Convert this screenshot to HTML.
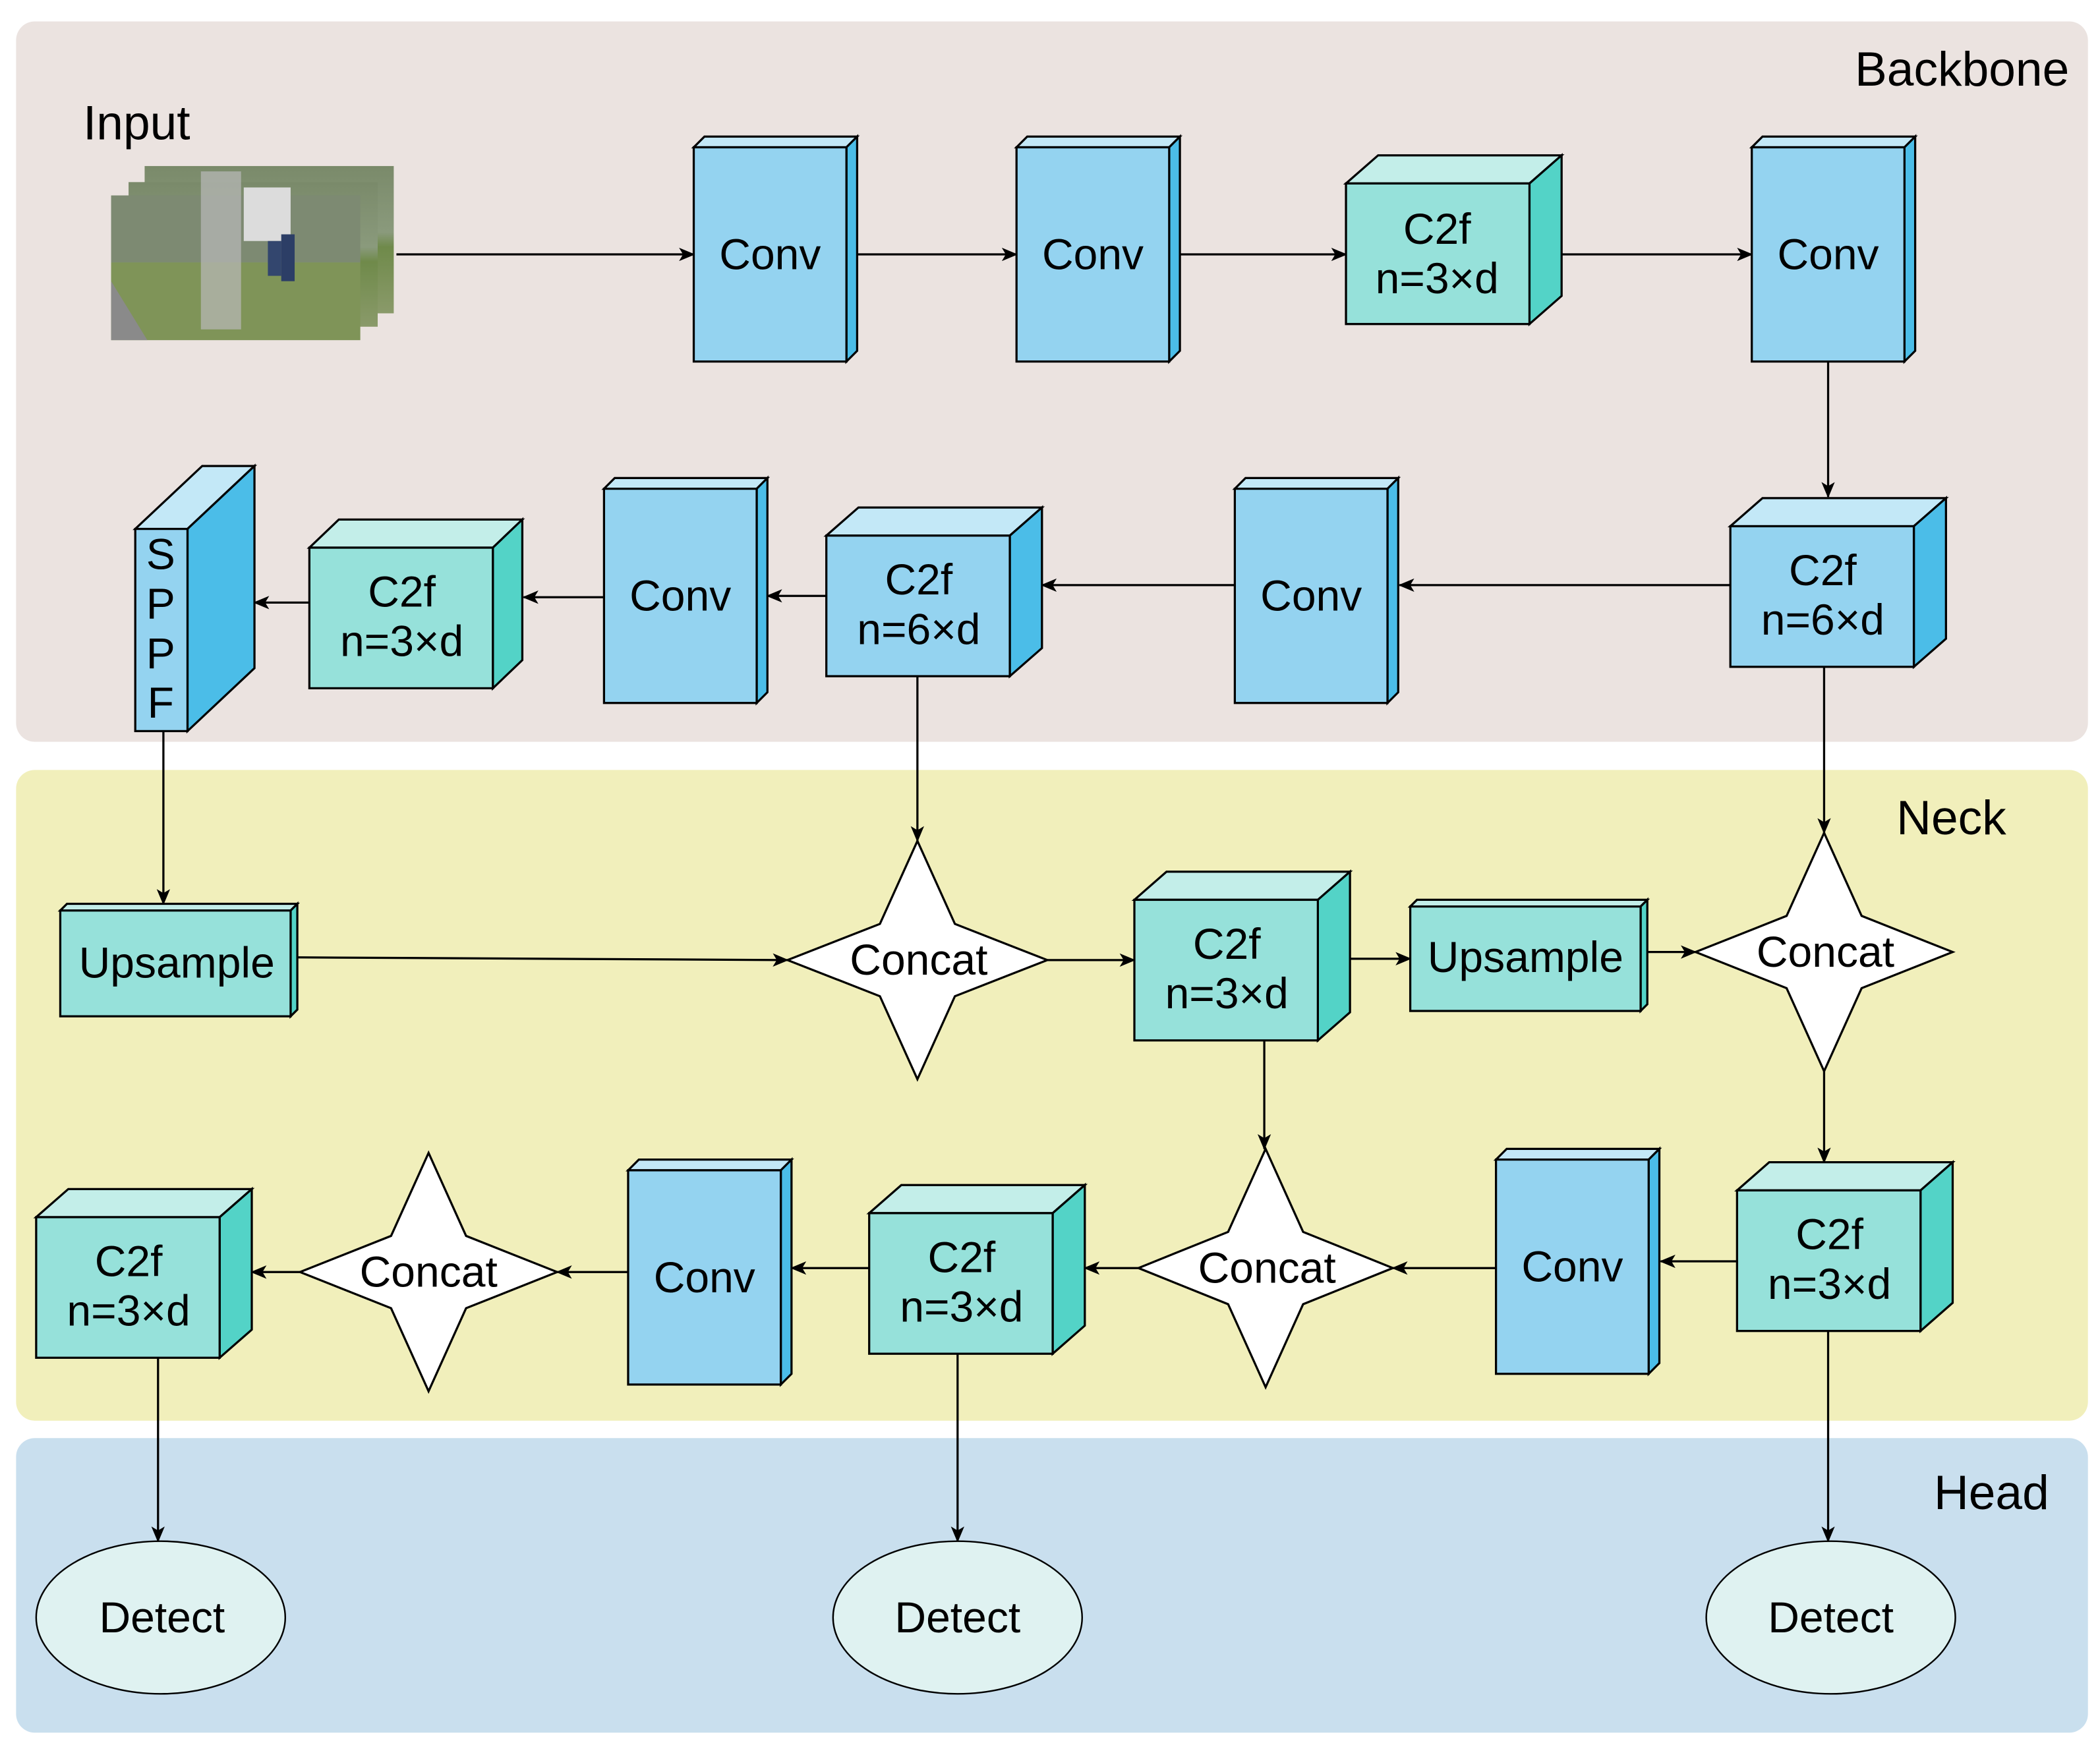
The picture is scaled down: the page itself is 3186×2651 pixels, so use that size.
<!DOCTYPE html>
<html><head><meta charset="utf-8"><style>html,body{margin:0;padding:0;background:#fff}svg{display:block}</style></head><body>
<svg width="3186" height="2651" viewBox="0 0 1568 1304.7" xmlns="http://www.w3.org/2000/svg" font-family="Liberation Sans, Arial, sans-serif">
<defs>
<marker id="a" markerWidth="12" markerHeight="10" refX="11" refY="5" orient="auto" markerUnits="userSpaceOnUse"><path d="M0,0 L12,5 L0,10 L3,5 Z" fill="#000"/></marker>
<linearGradient id="sky" x1="0" y1="0" x2="0" y2="1"><stop offset="0" stop-color="#7a8a6a"/><stop offset="0.45" stop-color="#8a9a7c"/><stop offset="0.55" stop-color="#6f8a4a"/><stop offset="1" stop-color="#8a9a6a"/></linearGradient>
</defs>
<rect x="0" y="0" width="1568" height="1305" fill="#fff"/>
<rect x="12" y="16" width="1547" height="538" rx="14" fill="#ebe3e0"/>
<rect x="12" y="575" width="1547" height="486" rx="14" fill="#f1efbb"/>
<rect x="12" y="1074" width="1547" height="220" rx="14" fill="#c9dfee"/>
<g font-size="36" fill="#000">
<text x="1545" y="64" text-anchor="end">Backbone</text>
<text x="62" y="104">Input</text>
<text x="1498" y="623" text-anchor="end">Neck</text>
<text x="1530" y="1127" text-anchor="end">Head</text>
</g>
<g>
<rect x="108" y="124" width="186" height="110" fill="url(#sky)"/>
<rect x="96" y="136" width="186" height="108" fill="url(#sky)"/>
<rect x="83" y="146" width="186" height="108" fill="url(#sky)"/>
<rect x="83" y="146" width="186" height="50" fill="#7d8a72"/>
<rect x="83" y="196" width="186" height="58" fill="#7f9458"/>
<rect x="150" y="128" width="30" height="118" fill="#b9b9b9" opacity="0.7"/>
<rect x="182" y="140" width="35" height="40" fill="#dcdcdc"/>
<rect x="210" y="175" width="10" height="35" fill="#2c3e66"/>
<rect x="200" y="180" width="10" height="26" fill="#33466e"/>
<polygon points="83,210 110,254 83,254" fill="#8a8a8a"/>
</g>
<g stroke="#000" stroke-width="1.6" fill="none" marker-end="url(#a)">
<path d="M296,190 H518"/><path d="M640,190 H759"/><path d="M881,190 H1005"/><path d="M1166,190 H1308"/>
<path d="M1365,270 V371"/>
<path d="M1292,437 H1045"/><path d="M922,437 H778"/><path d="M617,445 H573"/><path d="M451,446 H391"/><path d="M231,450 H190"/>
<path d="M122,546 V675"/><path d="M685,505 V628"/>
<path d="M222,715 L588,717"/><path d="M782,717 H847"/><path d="M1008,716 H1053"/><path d="M1230,711 H1266"/>
<path d="M1362,498 V622"/><path d="M1362,800 V868"/><path d="M944,777 V858"/>
<path d="M1297,942 H1240"/><path d="M1117,947 H1040"/><path d="M850,947 H810"/><path d="M649,947 H591"/><path d="M469,950 H416"/><path d="M224,950 H188"/>
<path d="M118,1014 V1151"/><path d="M715,1011 V1151"/><path d="M1365,994 V1151"/>
</g>
<g stroke="#000" stroke-width="1.6" stroke-linejoin="miter">
<polygon points="518,110 526,102 640,102 632,110" fill="#c3e8f7"/><polygon points="632,110 640,102 640,262 632,270" fill="#4bbde8"/><rect x="518" y="110" width="114" height="160" fill="#94d3f0"/>
<polygon points="759,110 767,102 881,102 873,110" fill="#c3e8f7"/><polygon points="873,110 881,102 881,262 873,270" fill="#4bbde8"/><rect x="759" y="110" width="114" height="160" fill="#94d3f0"/>
<polygon points="1308,110 1316,102 1430,102 1422,110" fill="#c3e8f7"/><polygon points="1422,110 1430,102 1430,262 1422,270" fill="#4bbde8"/><rect x="1308" y="110" width="114" height="160" fill="#94d3f0"/>
<polygon points="922,365 930,357 1044,357 1036,365" fill="#c3e8f7"/><polygon points="1036,365 1044,357 1044,517 1036,525" fill="#4bbde8"/><rect x="922" y="365" width="114" height="160" fill="#94d3f0"/>
<polygon points="451,365 459,357 573,357 565,365" fill="#c3e8f7"/><polygon points="565,365 573,357 573,517 565,525" fill="#4bbde8"/><rect x="451" y="365" width="114" height="160" fill="#94d3f0"/>
<polygon points="1117,866 1125,858 1239,858 1231,866" fill="#c3e8f7"/><polygon points="1231,866 1239,858 1239,1018 1231,1026" fill="#4bbde8"/><rect x="1117" y="866" width="114" height="160" fill="#94d3f0"/>
<polygon points="469,874 477,866 591,866 583,874" fill="#c3e8f7"/><polygon points="583,874 591,866 591,1026 583,1034" fill="#4bbde8"/><rect x="469" y="874" width="114" height="160" fill="#94d3f0"/>
<polygon points="1005,137 1029,116 1166,116 1142,137" fill="#c3eee9"/><polygon points="1142,137 1166,116 1166,221 1142,242" fill="#53d3c7"/><rect x="1005" y="137" width="137" height="105" fill="#96e1da"/>
<polygon points="1292,393 1316,372 1453,372 1429,393" fill="#c3e8f7"/><polygon points="1429,393 1453,372 1453,477 1429,498" fill="#4bbde8"/><rect x="1292" y="393" width="137" height="105" fill="#94d3f0"/>
<polygon points="617,400 641,379 778,379 754,400" fill="#c3e8f7"/><polygon points="754,400 778,379 778,484 754,505" fill="#4bbde8"/><rect x="617" y="400" width="137" height="105" fill="#94d3f0"/>
<polygon points="231,409 253,388 390,388 368,409" fill="#c3eee9"/><polygon points="368,409 390,388 390,493 368,514" fill="#53d3c7"/><rect x="231" y="409" width="137" height="105" fill="#96e1da"/>
<polygon points="847,672 871,651 1008,651 984,672" fill="#c3eee9"/><polygon points="984,672 1008,651 1008,756 984,777" fill="#53d3c7"/><rect x="847" y="672" width="137" height="105" fill="#96e1da"/>
<polygon points="1297,889 1321,868 1458,868 1434,889" fill="#c3eee9"/><polygon points="1434,889 1458,868 1458,973 1434,994" fill="#53d3c7"/><rect x="1297" y="889" width="137" height="105" fill="#96e1da"/>
<polygon points="649,906 673,885 810,885 786,906" fill="#c3eee9"/><polygon points="786,906 810,885 810,990 786,1011" fill="#53d3c7"/><rect x="649" y="906" width="137" height="105" fill="#96e1da"/>
<polygon points="27,909 51,888 188,888 164,909" fill="#c3eee9"/><polygon points="164,909 188,888 188,993 164,1014" fill="#53d3c7"/><rect x="27" y="909" width="137" height="105" fill="#96e1da"/>
<polygon points="101,395 151,348 190,348 140,395" fill="#c3e8f7"/><polygon points="140,395 190,348 190,499 140,546" fill="#4bbde8"/><rect x="101" y="395" width="39" height="151" fill="#94d3f0"/>
<polygon points="45,680 50,675 222,675 217,680" fill="#c3eee9"/><polygon points="217,680 222,675 222,754 217,759" fill="#53d3c7"/><rect x="45" y="680" width="172" height="79" fill="#96e1da"/>
<polygon points="1053,677 1058,672 1230,672 1225,677" fill="#c3eee9"/><polygon points="1225,677 1230,672 1230,750 1225,755" fill="#53d3c7"/><rect x="1053" y="677" width="172" height="78" fill="#96e1da"/>
<polygon points="685,628 713,690 782,717 713,744 685,806 657,744 588,717 657,690" fill="#fff"/>
<polygon points="1362,622 1390,684 1458,711 1390,738 1362,800 1334,738 1266,711 1334,684" fill="#fff"/>
<polygon points="945,858 973,920 1040,947 973,974 945,1036 917,974 850,947 917,920" fill="#fff"/>
<polygon points="320,861 348,923 416,950 348,977 320,1039 292,977 224,950 292,923" fill="#fff"/>
<ellipse cx="120" cy="1208" rx="93" ry="57" fill="#dff2f1" stroke-width="1.2"/>
<ellipse cx="715" cy="1208" rx="93" ry="57" fill="#dff2f1" stroke-width="1.2"/>
<ellipse cx="1367" cy="1208" rx="93" ry="57" fill="#dff2f1" stroke-width="1.2"/>
</g>
<g font-size="32.5" fill="#000" text-anchor="middle">
<text x="575" y="201">Conv</text><text x="816" y="201">Conv</text><text x="1365" y="201">Conv</text>
<text x="979" y="456">Conv</text><text x="508" y="456">Conv</text><text x="1174" y="957">Conv</text><text x="526" y="965">Conv</text>
<text x="1073" y="182">C2f</text><text x="1073" y="219">n=3×d</text>
<text x="1361" y="437">C2f</text><text x="1361" y="474">n=6×d</text>
<text x="686" y="444">C2f</text><text x="686" y="481">n=6×d</text>
<text x="300" y="453">C2f</text><text x="300" y="490">n=3×d</text>
<text x="916" y="716">C2f</text><text x="916" y="753">n=3×d</text>
<text x="1366" y="933">C2f</text><text x="1366" y="970">n=3×d</text>
<text x="718" y="950">C2f</text><text x="718" y="987">n=3×d</text>
<text x="96" y="953">C2f</text><text x="96" y="990">n=3×d</text>
<text x="120" y="425">S</text><text x="120" y="462">P</text><text x="120" y="499">P</text><text x="120" y="536">F</text>
<text x="132" y="730">Upsample</text><text x="1139" y="726">Upsample</text>
<text x="686" y="728">Concat</text><text x="1363" y="722">Concat</text><text x="946" y="958">Concat</text><text x="320" y="961">Concat</text>
<text x="121" y="1219">Detect</text><text x="715" y="1219">Detect</text><text x="1367" y="1219">Detect</text>
</g>
</svg>
</body></html>
